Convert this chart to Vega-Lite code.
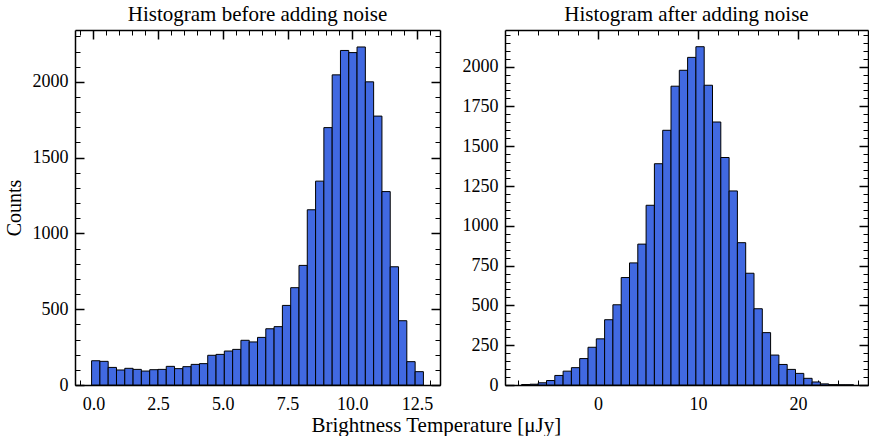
{
  "$schema": "https://vega.github.io/schema/vega-lite/v6.json",
  "background": "white",
  "padding": {"left": 4, "top": 4, "right": 0, "bottom": 0},
  "config": {
    "font": "Liberation Serif",
    "view": {"stroke": null},
    "style": {"guide-label": {"font": "Liberation Serif", "fill": "black"}, "guide-title": {"font": "Liberation Serif", "fill": "black"}, "group-title": {"font": "Liberation Serif"}},
    "axis": {"grid": false, "labelFont": "Liberation Serif", "labelFontSize": 18, "labelColor": "black", "titleFont": "Liberation Serif", "titleFontSize": 20, "titleFontWeight": "normal", "titleColor": "black", "tickColor": "black", "domainColor": "black", "zindex": 1},
    "title": {"font": "Liberation Serif", "fontSize": 21, "fontWeight": "normal", "color": "black", "anchor": "middle"}
  },
  "datasets": {
    "before": [
      {"x0": -0.070, "x1": 0.251, "count": 160},
      {"x0": 0.251, "x1": 0.571, "count": 156},
      {"x0": 0.571, "x1": 0.892, "count": 116},
      {"x0": 0.892, "x1": 1.212, "count": 99},
      {"x0": 1.212, "x1": 1.533, "count": 110},
      {"x0": 1.533, "x1": 1.853, "count": 103},
      {"x0": 1.853, "x1": 2.174, "count": 92},
      {"x0": 2.174, "x1": 2.494, "count": 101},
      {"x0": 2.494, "x1": 2.815, "count": 103},
      {"x0": 2.815, "x1": 3.135, "count": 123},
      {"x0": 3.135, "x1": 3.456, "count": 108},
      {"x0": 3.456, "x1": 3.776, "count": 121},
      {"x0": 3.776, "x1": 4.097, "count": 136},
      {"x0": 4.097, "x1": 4.417, "count": 141},
      {"x0": 4.417, "x1": 4.738, "count": 196},
      {"x0": 4.738, "x1": 5.058, "count": 202},
      {"x0": 5.058, "x1": 5.379, "count": 224},
      {"x0": 5.379, "x1": 5.699, "count": 235},
      {"x0": 5.699, "x1": 6.020, "count": 295},
      {"x0": 6.020, "x1": 6.340, "count": 284},
      {"x0": 6.340, "x1": 6.661, "count": 314},
      {"x0": 6.661, "x1": 6.981, "count": 371},
      {"x0": 6.981, "x1": 7.302, "count": 385},
      {"x0": 7.302, "x1": 7.622, "count": 525},
      {"x0": 7.622, "x1": 7.943, "count": 642},
      {"x0": 7.943, "x1": 8.263, "count": 789},
      {"x0": 8.263, "x1": 8.584, "count": 1156},
      {"x0": 8.584, "x1": 8.904, "count": 1345},
      {"x0": 8.904, "x1": 9.225, "count": 1698},
      {"x0": 9.225, "x1": 9.545, "count": 2046},
      {"x0": 9.545, "x1": 9.866, "count": 2207},
      {"x0": 9.866, "x1": 10.186, "count": 2193},
      {"x0": 10.186, "x1": 10.507, "count": 2230},
      {"x0": 10.507, "x1": 10.827, "count": 2000},
      {"x0": 10.827, "x1": 11.148, "count": 1774},
      {"x0": 11.148, "x1": 11.468, "count": 1276},
      {"x0": 11.468, "x1": 11.789, "count": 780},
      {"x0": 11.789, "x1": 12.109, "count": 424},
      {"x0": 12.109, "x1": 12.430, "count": 154},
      {"x0": 12.430, "x1": 12.750, "count": 88}
    ],
    "after": [
      {"x0": -7.65, "x1": -6.82, "count": 3},
      {"x0": -6.82, "x1": -5.99, "count": 5},
      {"x0": -5.99, "x1": -5.16, "count": 14},
      {"x0": -5.16, "x1": -4.33, "count": 28},
      {"x0": -4.33, "x1": -3.50, "count": 60},
      {"x0": -3.50, "x1": -2.67, "count": 87},
      {"x0": -2.67, "x1": -1.84, "count": 109},
      {"x0": -1.84, "x1": -1.01, "count": 166},
      {"x0": -1.01, "x1": -0.18, "count": 237},
      {"x0": -0.18, "x1": 0.65, "count": 290},
      {"x0": 0.65, "x1": 1.48, "count": 410},
      {"x0": 1.48, "x1": 2.31, "count": 504},
      {"x0": 2.31, "x1": 3.14, "count": 675},
      {"x0": 3.14, "x1": 3.97, "count": 767},
      {"x0": 3.97, "x1": 4.80, "count": 885},
      {"x0": 4.80, "x1": 5.63, "count": 1129},
      {"x0": 5.63, "x1": 6.46, "count": 1390},
      {"x0": 6.46, "x1": 7.29, "count": 1600},
      {"x0": 7.29, "x1": 8.12, "count": 1877},
      {"x0": 8.12, "x1": 8.95, "count": 1977},
      {"x0": 8.95, "x1": 9.78, "count": 2058},
      {"x0": 9.78, "x1": 10.61, "count": 2125},
      {"x0": 10.61, "x1": 11.44, "count": 1883},
      {"x0": 11.44, "x1": 12.27, "count": 1652},
      {"x0": 12.27, "x1": 13.10, "count": 1429},
      {"x0": 13.10, "x1": 13.93, "count": 1219},
      {"x0": 13.93, "x1": 14.76, "count": 894},
      {"x0": 14.76, "x1": 15.59, "count": 702},
      {"x0": 15.59, "x1": 16.42, "count": 479},
      {"x0": 16.42, "x1": 17.25, "count": 329},
      {"x0": 17.25, "x1": 18.08, "count": 188},
      {"x0": 18.08, "x1": 18.91, "count": 129},
      {"x0": 18.91, "x1": 19.74, "count": 98},
      {"x0": 19.74, "x1": 20.57, "count": 73},
      {"x0": 20.57, "x1": 21.40, "count": 42},
      {"x0": 21.40, "x1": 22.23, "count": 19},
      {"x0": 22.23, "x1": 23.06, "count": 7},
      {"x0": 23.06, "x1": 23.89, "count": 2},
      {"x0": 23.89, "x1": 24.72, "count": 1},
      {"x0": 24.72, "x1": 25.55, "count": 1}
    ]
  },
  "title": {"text": "Brightness Temperature [μJy]", "orient": "bottom", "anchor": "middle", "offset": 2},
  "spacing": 65,
  "bounds": "flush",
  "hconcat": [
    {
      "width": 365,
      "height": 355,
      "title": {"text": "Histogram before adding noise", "offset": 4},
      "data": {"name": "before"},
      "resolve": {"axis": {"x": "independent", "y": "independent"}},
      "layer": [
        {
          "mark": {"type": "bar", "fill": "#4169E1", "stroke": "black", "strokeWidth": 1},
          "encoding": {
            "x": {"field": "x0", "type": "quantitative", "scale": {"domain": [-0.711, 13.391], "nice": false, "zero": false},
                  "axis": {"orient": "bottom", "title": null, "values": [0, 2.5, 5, 7.5, 10, 12.5], "format": ".1f", "labelFont": "Liberation Serif", "labelFontSize": 18, "tickSize": -9, "tickWidth": 1.5, "labelPadding": 19, "domainWidth": 1.5}},
            "x2": {"field": "x1"},
            "y": {"field": "count", "type": "quantitative", "scale": {"domain": [0, 2342], "nice": false},
                  "axis": {"orient": "left", "title": "Counts", "titleFont": "Liberation Serif", "titleFontSize": 20, "titlePadding": 8, "values": [0, 500, 1000, 1500, 2000], "format": "d", "labelFont": "Liberation Serif", "labelFontSize": 18, "tickSize": -9, "tickWidth": 1.5, "labelPadding": 16, "domainWidth": 1.5}},
            "y2": {"datum": 0}
          }
        },
        {
          "mark": {"type": "bar", "opacity": 0},
          "encoding": {
            "x": {"field": "x0", "type": "quantitative", "scale": {"domain": [-0.711, 13.391], "nice": false, "zero": false},
                  "axis": {"orient": "bottom", "title": null, "labels": false, "domain": false, "values": [-0.5, 0, 0.5, 1, 1.5, 2, 2.5, 3, 3.5, 4, 4.5, 5, 5.5, 6, 6.5, 7, 7.5, 8, 8.5, 9, 9.5, 10, 10.5, 11, 11.5, 12, 12.5, 13], "tickSize": -5, "tickWidth": 1}},
            "x2": {"field": "x1"},
            "y": {"field": "count", "type": "quantitative", "scale": {"domain": [0, 2342], "nice": false},
                  "axis": {"orient": "left", "title": null, "labels": false, "domain": false, "values": [0, 100, 200, 300, 400, 500, 600, 700, 800, 900, 1000, 1100, 1200, 1300, 1400, 1500, 1600, 1700, 1800, 1900, 2000, 2100, 2200, 2300], "tickSize": -5, "tickWidth": 1}},
            "y2": {"datum": 0}
          }
        },
        {
          "mark": {"type": "bar", "opacity": 0},
          "encoding": {
            "x": {"field": "x0", "type": "quantitative", "scale": {"domain": [-0.711, 13.391], "nice": false, "zero": false},
                  "axis": {"orient": "top", "title": null, "labels": false, "values": [0, 2.5, 5, 7.5, 10, 12.5], "tickSize": -9, "tickWidth": 1.5, "domainWidth": 1.5}},
            "x2": {"field": "x1"},
            "y": {"field": "count", "type": "quantitative", "scale": {"domain": [0, 2342], "nice": false},
                  "axis": {"orient": "right", "title": null, "labels": false, "values": [0, 500, 1000, 1500, 2000], "tickSize": -9, "tickWidth": 1.5, "domainWidth": 1.5}},
            "y2": {"datum": 0}
          }
        },
        {
          "mark": {"type": "bar", "opacity": 0},
          "encoding": {
            "x": {"field": "x0", "type": "quantitative", "scale": {"domain": [-0.711, 13.391], "nice": false, "zero": false},
                  "axis": {"orient": "top", "title": null, "labels": false, "domain": false, "values": [-0.5, 0, 0.5, 1, 1.5, 2, 2.5, 3, 3.5, 4, 4.5, 5, 5.5, 6, 6.5, 7, 7.5, 8, 8.5, 9, 9.5, 10, 10.5, 11, 11.5, 12, 12.5, 13], "tickSize": -5, "tickWidth": 1}},
            "x2": {"field": "x1"},
            "y": {"field": "count", "type": "quantitative", "scale": {"domain": [0, 2342], "nice": false},
                  "axis": {"orient": "right", "title": null, "labels": false, "domain": false, "values": [0, 100, 200, 300, 400, 500, 600, 700, 800, 900, 1000, 1100, 1200, 1300, 1400, 1500, 1600, 1700, 1800, 1900, 2000, 2100, 2200, 2300], "tickSize": -5, "tickWidth": 1}},
            "y2": {"datum": 0}
          }
        }
      ]
    },
    {
      "width": 363,
      "height": 355,
      "title": {"text": "Histogram after adding noise", "offset": 4},
      "data": {"name": "after"},
      "resolve": {"axis": {"x": "independent", "y": "independent"}},
      "layer": [
        {
          "mark": {"type": "bar", "fill": "#4169E1", "stroke": "black", "strokeWidth": 1},
          "encoding": {
            "x": {"field": "x0", "type": "quantitative", "scale": {"domain": [-9.31, 26.99], "nice": false, "zero": false},
                  "axis": {"orient": "bottom", "title": null, "values": [0, 10, 20], "format": "d", "labelFont": "Liberation Serif", "labelFontSize": 18, "tickSize": -9, "tickWidth": 1.5, "labelPadding": 19, "domainWidth": 1.5}},
            "x2": {"field": "x1"},
            "y": {"field": "count", "type": "quantitative", "scale": {"domain": [0, 2230], "nice": false},
                  "axis": {"orient": "left", "title": null, "values": [0, 250, 500, 750, 1000, 1250, 1500, 1750, 2000], "format": "d", "labelFont": "Liberation Serif", "labelFontSize": 18, "tickSize": -9, "tickWidth": 1.5, "labelPadding": 16, "domainWidth": 1.5}},
            "y2": {"datum": 0}
          }
        },
        {
          "mark": {"type": "bar", "opacity": 0},
          "encoding": {
            "x": {"field": "x0", "type": "quantitative", "scale": {"domain": [-9.31, 26.99], "nice": false, "zero": false},
                  "axis": {"orient": "bottom", "title": null, "labels": false, "domain": false, "values": [-8, -6, -4, -2, 0, 2, 4, 6, 8, 10, 12, 14, 16, 18, 20, 22, 24, 26], "tickSize": -5, "tickWidth": 1}},
            "x2": {"field": "x1"},
            "y": {"field": "count", "type": "quantitative", "scale": {"domain": [0, 2230], "nice": false},
                  "axis": {"orient": "left", "title": null, "labels": false, "domain": false, "values": [0, 50, 100, 150, 200, 250, 300, 350, 400, 450, 500, 550, 600, 650, 700, 750, 800, 850, 900, 950, 1000, 1050, 1100, 1150, 1200, 1250, 1300, 1350, 1400, 1450, 1500, 1550, 1600, 1650, 1700, 1750, 1800, 1850, 1900, 1950, 2000, 2050, 2100, 2150, 2200], "tickSize": -5, "tickWidth": 1}},
            "y2": {"datum": 0}
          }
        },
        {
          "mark": {"type": "bar", "opacity": 0},
          "encoding": {
            "x": {"field": "x0", "type": "quantitative", "scale": {"domain": [-9.31, 26.99], "nice": false, "zero": false},
                  "axis": {"orient": "top", "title": null, "labels": false, "values": [0, 10, 20], "tickSize": -9, "tickWidth": 1.5, "domainWidth": 1.5}},
            "x2": {"field": "x1"},
            "y": {"field": "count", "type": "quantitative", "scale": {"domain": [0, 2230], "nice": false},
                  "axis": {"orient": "right", "title": null, "labels": false, "values": [0, 250, 500, 750, 1000, 1250, 1500, 1750, 2000], "tickSize": -9, "tickWidth": 1.5, "domainWidth": 1.5}},
            "y2": {"datum": 0}
          }
        },
        {
          "mark": {"type": "bar", "opacity": 0},
          "encoding": {
            "x": {"field": "x0", "type": "quantitative", "scale": {"domain": [-9.31, 26.99], "nice": false, "zero": false},
                  "axis": {"orient": "top", "title": null, "labels": false, "domain": false, "values": [-8, -6, -4, -2, 0, 2, 4, 6, 8, 10, 12, 14, 16, 18, 20, 22, 24, 26], "tickSize": -5, "tickWidth": 1}},
            "x2": {"field": "x1"},
            "y": {"field": "count", "type": "quantitative", "scale": {"domain": [0, 2230], "nice": false},
                  "axis": {"orient": "right", "title": null, "labels": false, "domain": false, "values": [0, 50, 100, 150, 200, 250, 300, 350, 400, 450, 500, 550, 600, 650, 700, 750, 800, 850, 900, 950, 1000, 1050, 1100, 1150, 1200, 1250, 1300, 1350, 1400, 1450, 1500, 1550, 1600, 1650, 1700, 1750, 1800, 1850, 1900, 1950, 2000, 2050, 2100, 2150, 2200], "tickSize": -5, "tickWidth": 1}},
            "y2": {"datum": 0}
          }
        }
      ]
    }
  ]
}
